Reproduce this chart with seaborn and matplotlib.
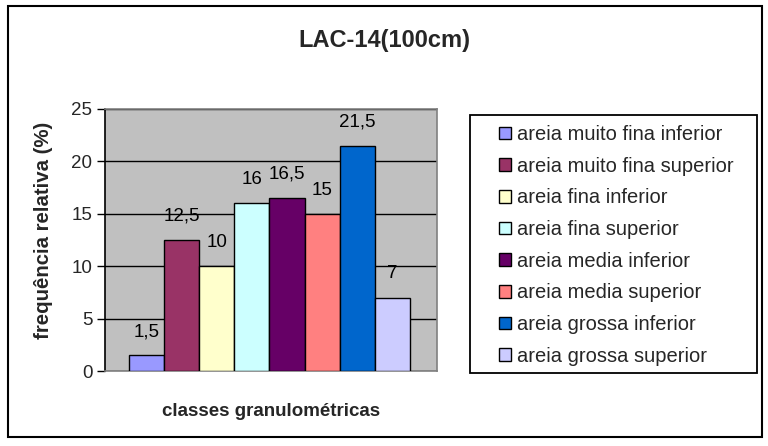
import matplotlib
matplotlib.use("Agg")
import matplotlib.pyplot as plt
from matplotlib.patches import Rectangle, Patch
import seaborn as sns
import pandas as pd

# Granulometric classes and relative frequencies (%)
classes = [
    "areia muito fina inferior",
    "areia muito fina superior",
    "areia fina inferior",
    "areia fina superior",
    "areia media inferior",
    "areia media superior",
    "areia grossa inferior",
    "areia grossa superior",
]
freq = [1.5, 12.5, 10, 16, 16.5, 15, 21.5, 7]
value_labels = ["1,5", "12,5", "10", "16", "16,5", "15", "21,5", "7"]
colors = ["#9999FF", "#993366", "#FFFFCC", "#CCFFFF",
          "#660066", "#FF8080", "#0066CC", "#CCCCFF"]
yticks = [0, 5, 10, 15, 20, 25]

sns.set_theme(style="white")
plt.rcParams["font.family"] = ["Liberation Sans", "DejaVu Sans"]

df = pd.DataFrame({"classe": classes, "freq": freq})

W, H = 768, 446
fig = plt.figure(figsize=(W / 100, H / 100), dpi=100)
fig.patch.set_facecolor("white")

# plot area in pixel coordinates
left, right, top, bottom = 105, 437, 109, 371
ax = fig.add_axes([left / W, 1 - bottom / H, (right - left) / W, (bottom - top) / H])
ax.set_facecolor("#C0C0C0")

sns.barplot(data=df, x="classe", y="freq", hue="classe", palette=colors,
            hue_order=classes, order=classes, width=1.0, dodge=False,
            saturation=1, edgecolor="black", linewidth=1.0, legend=False,
            ax=ax, zorder=3)

ax.set_ylim(0, 25)
ax.set_yticks(yticks)
ax.set_yticklabels([str(t) for t in yticks], fontsize=13.5)
ax.set_xlim(-0.5 - 0.68, 7.5 + 0.77)
ax.set_xticks([])
ax.yaxis.grid(True, color="black", linewidth=1.0, zorder=0)
ax.set_axisbelow(True)
ax.tick_params(axis="y", which="major", direction="out", length=6, width=1,
               color="black", pad=3, left=True)

for side in ["top", "right", "bottom"]:
    ax.spines[side].set_color("#808080")
    ax.spines[side].set_linewidth(1.2)
ax.spines["left"].set_color("black")
ax.spines["left"].set_linewidth(1.2)

# value labels above each bar
for cont, lab in zip(ax.containers, value_labels):
    ax.bar_label(cont, labels=[lab], padding=11, fontsize=13.5, color="black")

ax.set_xlabel("classes granulométricas", fontsize=13.5, fontweight="bold", labelpad=23)
ax.set_ylabel("frequência relativa (%)", fontsize=14.7, fontweight="bold")
ax.yaxis.set_label_coords((53 - left) / (right - left), (bottom - 230) / (bottom - top))

fig.text(0.5, 1 - 40 / H, "LAC-14(100cm)", ha="center", va="center",
         fontsize=17, fontweight="bold")

# legend with small square keys, framed by a separate box
handles = [Patch(facecolor=c, edgecolor="black", linewidth=1.0) for c in colors]
leg = fig.legend(handles, classes, loc="upper left",
                 bbox_to_anchor=(499 / W, 1 - 125 / H), bbox_transform=fig.transFigure,
                 fontsize=14.5, frameon=False,
                 handlelength=0.6, handleheight=0.6, handletextpad=0.3,
                 labelspacing=0.63, borderpad=0, borderaxespad=0)
fig.patches.append(Rectangle((470 / W, 1 - 373 / H), (757 - 470) / W, (373 - 115) / H,
                             transform=fig.transFigure, fill=True, facecolor="none",
                             edgecolor="black", linewidth=1.3))

# chart border
fig.patches.append(Rectangle((8 / W, 1 - 437 / H), (762 - 8) / W, (437 - 6) / H,
                             transform=fig.transFigure, fill=False,
                             edgecolor="black", linewidth=1.5))

fig.savefig("out.png", dpi=100)
